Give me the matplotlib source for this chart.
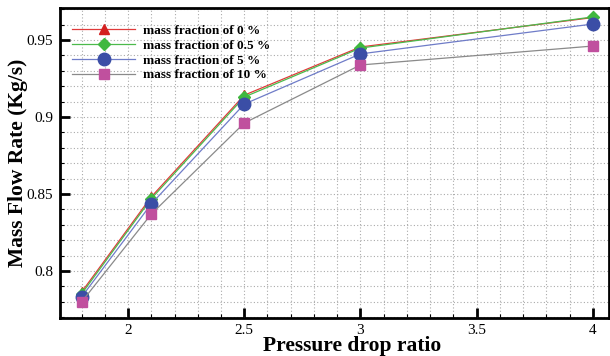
import matplotlib
import matplotlib.pyplot as plt
from matplotlib.ticker import MultipleLocator

matplotlib.use("Agg")

# pressure drop ratio (x) and mass flow rate (kg/s) for each mass fraction
pressure_ratio = [1.8, 2.1, 2.5, 3.0, 4.0]
flow_0 = [0.7864, 0.8482, 0.9142, 0.9455, 0.9646]
flow_05 = [0.7852, 0.8470, 0.9130, 0.9448, 0.9650]
flow_5 = [0.7832, 0.8436, 0.9084, 0.9410, 0.9604]
flow_10 = [0.7800, 0.8370, 0.8961, 0.9338, 0.9461]
labels = ["mass fraction of 0 %", "mass fraction of 0.5 %",
          "mass fraction of 5 %", "mass fraction of 10 %"]

plt.rcParams["font.family"] = ["Liberation Serif", "DejaVu Serif"]

fig = plt.figure(figsize=(6.1, 3.56), dpi=100)
ax = fig.add_axes([0.0984, 0.1067, 0.9, 0.8708])

styles = [
    (flow_0, "#e03a3a", "#d42020", "^", 7),
    (flow_05, "#4cba4c", "#3fb83f", "D", 6),
    (flow_5, "#6f7cc8", "#3b4ea6", "o", 9),
    (flow_10, "#8a8a8a", "#c0509e", "s", 7),
]
for (vals, lc, mc, mk, ms), lab in zip(styles, labels):
    ax.plot(pressure_ratio, vals, color=lc, lw=0.9, marker=mk, markersize=ms,
            markerfacecolor=mc, markeredgecolor=mc, label=lab)

ax.set_xlim(1.707, 4.07)
ax.set_ylim(0.7695, 0.9708)
ax.xaxis.set_minor_locator(MultipleLocator(0.1))
ax.yaxis.set_minor_locator(MultipleLocator(0.01))
ax.set_yticks([0.8, 0.85, 0.9, 0.95])
ax.set_yticklabels(["0.8", "0.85", "0.9", "0.95"])
ax.set_xticks([2, 2.5, 3, 3.5, 4])
ax.set_xticklabels(["2", "2.5", "3", "3.5", "4"])

ax.grid(True, which="both", linestyle=(0, (1, 2)), color="#aaaaaa", lw=0.8)
ax.tick_params(which="major", direction="in", length=7, width=2, labelsize=11, pad=5)
ax.tick_params(axis="x", which="major", pad=4)
ax.tick_params(which="minor", direction="in", length=3, width=0.8)
ax.tick_params(top=False, right=False)
for s in ax.spines.values():
    s.set_linewidth(2)

ax.set_xlabel("Pressure drop ratio", fontsize=15.5, fontweight="bold", va="center")
ax.xaxis.set_label_coords(0.532, -0.089)
ax.set_ylabel("Mass Flow Rate (Kg/s)", fontsize=15.5, fontweight="bold", va="center")
ax.yaxis.set_label_coords(-0.077, 0.5)

ax.legend(loc="upper left", frameon=False, prop={"weight": "bold", "size": 9.5},
          bbox_to_anchor=(0.0, 0.985), handlelength=4.8, labelspacing=0.2,
          handletextpad=0.6)

plt.savefig("out.png")
